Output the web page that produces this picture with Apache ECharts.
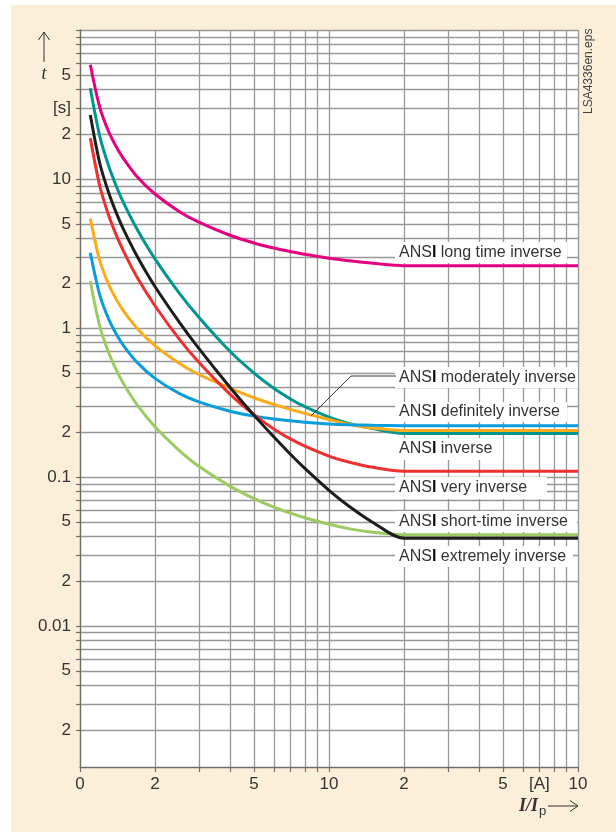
<!DOCTYPE html>
<html><head><meta charset="utf-8">
<script src="https://cdn.jsdelivr.net/npm/echarts@6/dist/echarts.min.js"></script>
<style>
html,body{margin:0;padding:0;background:#ffffff;}
#bg{position:absolute;left:11px;top:5px;width:605px;height:827px;background:#fcefda;}
#chart{position:absolute;left:0;top:0;width:616px;height:833px;}
</style>
</head><body><div id="bg"></div><div id="chart"></div>
<script>
// ---- data ----
const currentMultiples = [1.1, 1.2, 1.3, 1.4, 1.5, 1.7, 2, 2.5, 3, 4, 5, 6, 7, 8, 10, 12, 15, 20, 100];
const longTimeInverse   = [58.5, 30.4, 21.0, 16.4, 13.6, 10.3, 7.93, 6.06, 5.13, 4.19, 3.72, 3.44, 3.26, 3.12, 2.94, 2.83, 2.72, 2.62, 2.62];
const inverse           = [40.6, 19.4, 12.4, 8.91, 6.86, 4.56, 2.91, 1.72, 1.18, 0.698, 0.498, 0.394, 0.334, 0.296, 0.252, 0.229, 0.211, 0.196, 0.196];
const moderatelyInverse = [5.42, 2.84, 1.98, 1.55, 1.29, 0.988, 0.761, 0.580, 0.487, 0.395, 0.340, 0.307, 0.284, 0.267, 0.243, 0.226, 0.213, 0.205, 0.205];
const definitelyInverse = [3.20, 1.67, 1.16, 0.907, 0.756, 0.585, 0.459, 0.364, 0.319, 0.276, 0.256, 0.245, 0.238, 0.233, 0.227, 0.224, 0.222, 0.221, 0.221];
const shortTimeInverse  = [2.06, 1.03, 0.691, 0.521, 0.419, 0.303, 0.217, 0.151, 0.118, 0.0868, 0.0716, 0.0628, 0.0571, 0.0532, 0.0481, 0.0450, 0.0425, 0.0410, 0.0410];
const veryInverse       = [18.8, 9.01, 5.78, 4.18, 3.24, 2.17, 1.41, 0.845, 0.588, 0.360, 0.262, 0.210, 0.180, 0.161, 0.138, 0.126, 0.116, 0.109, 0.109];
const extremelyInverse  = [26.9, 12.8, 8.20, 5.90, 4.54, 3.01, 1.90, 1.10, 0.729, 0.400, 0.259, 0.186, 0.142, 0.114, 0.0813, 0.0638, 0.0495, 0.0388, 0.0388];

const xGridValues = [1, 2, 3, 4, 5, 6, 7, 8, 9, 10, 20, 30, 40, 50, 60, 70, 80, 90, 100];
const xLabelValues = [1, 2, 5, 10, 20, 50, 70, 100];
const xLabelTexts  = ['0', '2', '5', '10', '2', '5', '[A]', '10'];
const yGridValues = [0.002, 0.003, 0.004, 0.005, 0.006, 0.007, 0.008, 0.009,
  0.01, 0.02, 0.03, 0.04, 0.05, 0.06, 0.07, 0.08, 0.09,
  0.1, 0.2, 0.3, 0.4, 0.5, 0.6, 0.7, 0.8, 0.9,
  1, 2, 3, 4, 5, 6, 7, 8, 9,
  10, 20, 30, 40, 50, 60, 70, 80, 90, 100];
const yLabelValues = [0.002, 0.005, 0.01, 0.02, 0.05, 0.1, 0.2, 0.5, 1, 2, 5, 10, 20, 30, 50];
const yLabelTexts  = ['2', '5', '0.01', '2', '5', '0.1', '2', '5', '1', '2', '5', '10', '2', '[s]', '5'];
const yMin = 0.00113, yMax = 100, xMin = 1, xMax = 100;

const curveNames = ['long time inverse', 'moderately inverse', 'definitely inverse', 'inverse',
  'very inverse', 'short-time inverse', 'extremely inverse'];

// ---- chart ----
const FONT = '"Liberation Sans", Arial, sans-serif';
const GRID_COLOR = '#979797';
const AXIS_COLOR = '#6e6e6e';
const TEXT_COLOR = '#333333';

function pairs(ys) { return currentMultiples.map((x, i) => [x, ys[i]]); }
function lookup(values, texts, v) {
  for (let i = 0; i < values.length; i++) {
    if (Math.abs(values[i] - v) / values[i] < 1e-6) return texts[i];
  }
  return '';
}

const seriesDefs = [
  {name: 'ANSI long time inverse', data: longTimeInverse, color: '#e5007e'},
  {name: 'ANSI inverse', data: inverse, color: '#00968f'},
  {name: 'ANSI moderately inverse', data: moderatelyInverse, color: '#fbab18'},
  {name: 'ANSI definitely inverse', data: definitelyInverse, color: '#0a9ddc'},
  {name: 'ANSI short-time inverse', data: shortTimeInverse, color: '#9bcb62'},
  {name: 'ANSI very inverse', data: veryInverse, color: '#ec2f2f'},
  {name: 'ANSI extremely inverse', data: extremelyInverse, color: '#1d1d1b'}
];

const boxLayout = [
  {x: 395, y: 242, w: 172, h: 21},
  {x: 395, y: 367, w: 183, h: 21},
  {x: 395, y: 402, w: 172, h: 20},
  {x: 395, y: 438, w: 108, h: 22},
  {x: 395, y: 477, w: 152, h: 22},
  {x: 395, y: 511, w: 182, h: 21},
  {x: 395, y: 546, w: 178, h: 21}
];

const labelGraphics = [];
curveNames.forEach((nm, i) => {
  const b = boxLayout[i];
  labelGraphics.push({type: 'rect', z: 50, shape: {x: b.x, y: b.y, width: b.w, height: b.h}, style: {fill: '#ffffff'}});
  labelGraphics.push({type: 'text', z: 51, x: b.x + 4, y: b.y + b.h / 2,
    style: {
      text: '{a|ANS}{b|I}{a| ' + nm + '}',
      textVerticalAlign: 'middle',
      rich: {
        a: {fontSize: 16, fontFamily: FONT, fill: TEXT_COLOR},
        b: {fontSize: 16, fontFamily: FONT, fill: '#111', fontWeight: 'bold'}
      }
    }});
});

const option = {
  backgroundColor: 'transparent',
  animation: false,
  grid: {left: 80, right: 38, top: 30, bottom: 66, show: true, backgroundColor: '#ffffff', borderWidth: 0},
  xAxis: {
    type: 'log', logBase: 10, min: xMin, max: xMax,
    axisLine: {show: true, lineStyle: {color: AXIS_COLOR, width: 1.3}},
    axisTick: {show: true, customValues: xGridValues, length: 5, inside: false, lineStyle: {color: AXIS_COLOR, width: 1.2}},
    splitLine: {show: true, lineStyle: {color: GRID_COLOR, width: 1.3}},
    minorTick: {show: false}, minorSplitLine: {show: false},
    axisLabel: {
      customValues: xLabelValues, margin: 9,
      fontSize: 17, fontFamily: FONT, color: TEXT_COLOR,
      formatter: v => lookup(xLabelValues, xLabelTexts, v)
    }
  },
  yAxis: {
    type: 'log', logBase: 10, min: yMin, max: yMax,
    axisLine: {show: true, lineStyle: {color: AXIS_COLOR, width: 1.3}},
    axisTick: {show: true, customValues: yGridValues, length: 4, inside: false, lineStyle: {color: AXIS_COLOR, width: 1.2}},
    splitLine: {show: true, lineStyle: {color: GRID_COLOR, width: 1.3}},
    minorTick: {show: false}, minorSplitLine: {show: false},
    axisLabel: {
      customValues: yLabelValues, margin: 9,
      fontSize: 17, fontFamily: FONT, color: TEXT_COLOR,
      formatter: v => lookup(yLabelValues, yLabelTexts, v)
    }
  },
  series: seriesDefs.map(s => ({
    type: 'line', name: s.name, data: pairs(s.data),
    showSymbol: false, symbol: 'none', smooth: 0.3,
    lineStyle: {color: s.color, width: 3}, z: 10
  })),
  graphic: [
    // y-axis name with arrow
    {type: 'polyline', shape: {points: [[44, 62], [44, 32]]}, style: {stroke: '#333', lineWidth: 1, fill: null}, z: 60},
    {type: 'polyline', shape: {points: [[38.5, 40], [44, 32], [49.5, 40]]}, style: {stroke: '#333', lineWidth: 1, fill: null}, z: 60},
    {type: 'text', x: 44, y: 74, style: {text: 't', textAlign: 'center', textVerticalAlign: 'middle',
      fontSize: 18, fontFamily: '"Liberation Serif", serif', fontStyle: 'italic', fill: '#333'}, z: 60},
    // x-axis name with arrow
    {type: 'text', x: 519, y: 806, style: {
      text: '{i|I/I}{p|p}', textVerticalAlign: 'middle',
      rich: {
        i: {fontSize: 18, fontFamily: '"Liberation Serif", serif', fontStyle: 'italic', fontWeight: 'bold', fill: '#333'},
        p: {fontSize: 13, fontFamily: FONT, fill: '#333', padding: [10, 0, 0, 1]}
      }}, z: 60},
    {type: 'polyline', shape: {points: [[548, 806], [578, 806]]}, style: {stroke: '#333', lineWidth: 1, fill: null}, z: 60},
    {type: 'polyline', shape: {points: [[570, 800.5], [578, 806], [570, 811.5]]}, style: {stroke: '#333', lineWidth: 1, fill: null}, z: 60},
    // file name
    {type: 'text', x: 589, y: 114, rotation: Math.PI / 2, style: {text: 'LSA4336en.eps', textAlign: 'left', textVerticalAlign: 'middle',
      fontSize: 12, fontFamily: FONT, fill: '#444'}, z: 60},
    // leader line for moderately inverse
    {type: 'polyline', shape: {points: [[311, 416], [351, 376], [396, 376]]}, style: {stroke: '#222', lineWidth: 0.9, fill: null}, z: 55}
  ].concat(labelGraphics)
};

const chart = echarts.init(document.getElementById('chart'), null, {renderer: 'canvas'});
chart.setOption(option);
</script></body></html>
